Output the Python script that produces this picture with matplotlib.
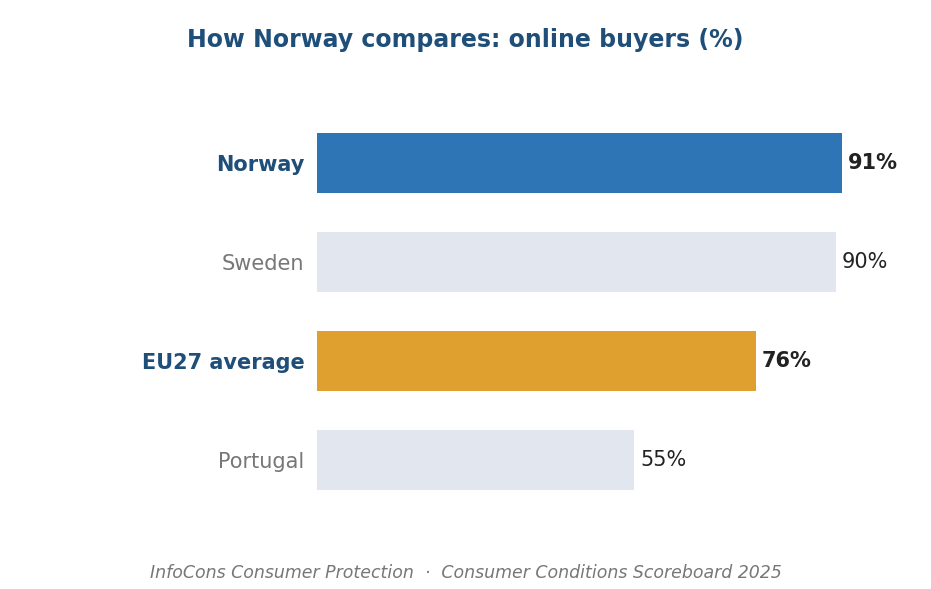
import matplotlib
matplotlib.use('Agg')
import matplotlib.pyplot as plt

countries = ['Norway', 'Sweden', 'EU27 average', 'Portugal']
values = [91, 90, 76, 55]
highlight = [True, False, True, False]
bar_colors = ['#2e75b6', '#e2e7ef', '#e0a030', '#e2e7ef']

fig = plt.figure(figsize=(9.31, 5.89), dpi=100)
ax = fig.add_axes([0.3405, 0.135, 0.626, 0.672])

ypos = list(range(len(countries)))
ax.barh(ypos, values, height=0.6, color=bar_colors)
ax.set_ylim(3.5, -0.5)
ax.set_xlim(0, 101)

for y, v, hl in zip(ypos, values, highlight):
    ax.text(v + 1, y, f'{v}%', va='center', ha='left', fontsize=15,
            color='#222222', fontweight='bold' if hl else 'normal')

ax.set_yticks(ypos)
ax.set_yticklabels(countries)
for lbl, hl in zip(ax.get_yticklabels(), highlight):
    lbl.set_fontsize(15)
    lbl.set_color('#1f4e79' if hl else '#777777')
    lbl.set_fontweight('bold' if hl else 'normal')
ax.tick_params(axis='y', length=0, pad=9)
ax.set_xticks([])
for s in ax.spines.values():
    s.set_visible(False)

fig.text(0.5, 0.932, 'How Norway compares: online buyers (%)', ha='center', va='center',
         fontsize=17, fontweight='bold', color='#1f4e79')
fig.text(0.5, 0.028, 'InfoCons Consumer Protection  ·  Consumer Conditions Scoreboard 2025',
         ha='center', va='center', fontsize=12.5, style='italic', color='#777777')

fig.savefig('out.png', dpi=100)
